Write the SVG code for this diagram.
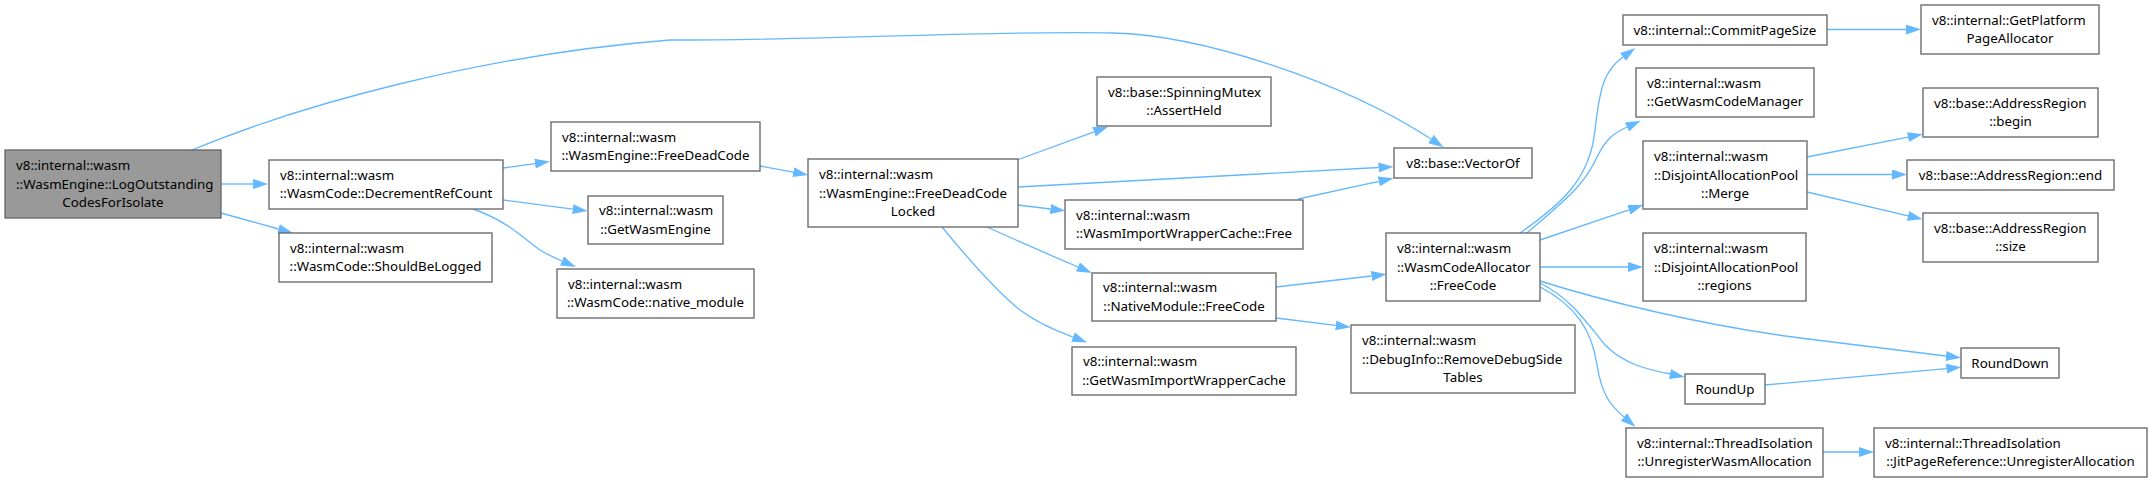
<svg xmlns="http://www.w3.org/2000/svg" width="2151" height="482" viewBox="0 0 2151 482">
<style>
.node rect{fill:#ffffff;stroke:#666666;stroke-width:1.33}
.focus rect{fill:#999999}
text{font-family:"Noto Sans","DejaVu Sans",sans-serif;font-size:13.33px;fill:#000000}
.c{text-anchor:middle}
.edge{fill:none;stroke:#63b8ff;stroke-width:1.33;marker-end:url(#ah)}
</style>
<defs>
<marker id="ah" markerUnits="userSpaceOnUse" viewBox="0 0 15 10" refX="0" refY="5" markerWidth="15" markerHeight="10" orient="auto">
<path d="M0,0 L15,5 L0,10 z" fill="#63b8ff"/>
</marker>
</defs>
<rect width="2151" height="482" fill="#ffffff"/>
<g id="connectors">
<path class="edge" d="M192,150 C300,105 480,55 670,40 C850,40 1000,30 1113,33 C1200,35 1340,80 1431,139"/>
<path class="edge" d="M221,184 L253,184"/>
<path class="edge" d="M221,213 L278.5,229"/>
<path class="edge" d="M503,168 L535,163.6"/>
<path class="edge" d="M503,200 L572.8,209.1"/>
<path class="edge" d="M473,209 C510,222 525,240 540,250 C548,255 555,258 562,261"/>
<path class="edge" d="M760,166 L793.3,172.2"/>
<path class="edge" d="M1017,160 L1094,131.8"/>
<path class="edge" d="M1018,187 L1378.5,167.5"/>
<path class="edge" d="M1018,205 L1050.4,209"/>
<path class="edge" d="M987,227 C1020,242 1050,255 1078,267"/>
<path class="edge" d="M942,227 C965,255 995,290 1020,310 C1040,325 1060,332 1073,337"/>
<path class="edge" d="M1298,199 L1378.8,181.4"/>
<path class="edge" d="M1276,287 L1371.5,276"/>
<path class="edge" d="M1276,318 L1335.8,325.4"/>
<path class="edge" d="M1520,233 C1560,205 1590,180 1595,130 C1600,85 1605,70 1623,57"/>
<path class="edge" d="M1527,233 C1565,200 1585,185 1598,155 C1606,140 1612,134 1627,127"/>
<path class="edge" d="M1540,240 L1629,209.8"/>
<path class="edge" d="M1540,267 L1628,267"/>
<path class="edge" d="M1540,281 C1600,300 1700,325 1800,338 C1870,347 1910,352 1946,356"/>
<path class="edge" d="M1540,283 C1570,298 1585,320 1605,345 C1625,365 1650,370 1670,374"/>
<path class="edge" d="M1540,287 C1575,305 1592,330 1597,365 C1602,395 1610,405 1624,417"/>
<path class="edge" d="M1827,29.5 L1906,29.5"/>
<path class="edge" d="M1807,157 L1908,137.1"/>
<path class="edge" d="M1807,174.5 L1892,174.5"/>
<path class="edge" d="M1807,192 L1908,215.9"/>
<path class="edge" d="M1765,385 L1946.4,368.6"/>
<path class="edge" d="M1823,452 L1859,452"/>
</g>
<g id="n1" class="node focus"><rect x="5" y="150" width="216" height="68"/><text x="16" y="169.9">v8::internal::wasm</text><text x="16" y="188.6">::WasmEngine::LogOutstanding</text><text class="c" x="113" y="207.3">CodesForIsolate</text></g>
<g id="n2" class="node"><rect x="269" y="160" width="234" height="49"/><text x="280" y="179.75">v8::internal::wasm</text><text class="c" x="386" y="198.45">::WasmCode::DecrementRefCount</text></g>
<g id="n3" class="node"><rect x="279" y="233" width="213" height="49"/><text x="290" y="252.75">v8::internal::wasm</text><text class="c" x="385.5" y="271.45">::WasmCode::ShouldBeLogged</text></g>
<g id="n4" class="node"><rect x="551" y="122" width="209" height="49"/><text x="562" y="141.75">v8::internal::wasm</text><text class="c" x="655.5" y="160.45">::WasmEngine::FreeDeadCode</text></g>
<g id="n5" class="node"><rect x="588" y="196" width="135" height="48"/><text x="599" y="215.25">v8::internal::wasm</text><text class="c" x="655.5" y="233.95">::GetWasmEngine</text></g>
<g id="n6" class="node"><rect x="557" y="269" width="197" height="49"/><text x="568" y="288.75">v8::internal::wasm</text><text class="c" x="655.5" y="307.45">::WasmCode::native_module</text></g>
<g id="n7" class="node"><rect x="808" y="159" width="210" height="68"/><text x="819" y="178.9">v8::internal::wasm</text><text x="819" y="197.6">::WasmEngine::FreeDeadCode</text><text class="c" x="913" y="216.3">Locked</text></g>
<g id="n8" class="node"><rect x="1097" y="77" width="174" height="49"/><text x="1108" y="96.75">v8::base::SpinningMutex</text><text class="c" x="1184" y="115.45">::AssertHeld</text></g>
<g id="n9" class="node"><rect x="1394" y="148" width="138" height="30"/><text class="c" x="1463" y="167.6">v8::base::VectorOf</text></g>
<g id="n10" class="node"><rect x="1065" y="200" width="238" height="49"/><text x="1076" y="219.75">v8::internal::wasm</text><text class="c" x="1184" y="238.45">::WasmImportWrapperCache::Free</text></g>
<g id="n11" class="node"><rect x="1092" y="273" width="184" height="48"/><text x="1103" y="292.25">v8::internal::wasm</text><text class="c" x="1184" y="310.95">::NativeModule::FreeCode</text></g>
<g id="n12" class="node"><rect x="1072" y="347" width="224" height="48"/><text x="1083" y="366.25">v8::internal::wasm</text><text class="c" x="1184" y="384.95">::GetWasmImportWrapperCache</text></g>
<g id="n13" class="node"><rect x="1386" y="233" width="154" height="68"/><text x="1397" y="252.9">v8::internal::wasm</text><text x="1397" y="271.6">::WasmCodeAllocator</text><text class="c" x="1463" y="290.3">::FreeCode</text></g>
<g id="n14" class="node"><rect x="1351" y="325" width="224" height="68"/><text x="1362" y="344.9">v8::internal::wasm</text><text x="1362" y="363.6">::DebugInfo::RemoveDebugSide</text><text class="c" x="1463" y="382.3">Tables</text></g>
<g id="n15" class="node"><rect x="1623" y="15" width="204" height="30"/><text class="c" x="1725" y="34.6">v8::internal::CommitPageSize</text></g>
<g id="n16" class="node"><rect x="1921" y="5" width="178" height="49"/><text x="1932" y="24.75">v8::internal::GetPlatform</text><text class="c" x="2010" y="43.45">PageAllocator</text></g>
<g id="n17" class="node"><rect x="1636" y="68" width="178" height="49"/><text x="1647" y="87.75">v8::internal::wasm</text><text class="c" x="1725" y="106.45">::GetWasmCodeManager</text></g>
<g id="n18" class="node"><rect x="1643" y="141" width="164" height="68"/><text x="1654" y="160.9">v8::internal::wasm</text><text x="1654" y="179.6">::DisjointAllocationPool</text><text class="c" x="1725" y="198.3">::Merge</text></g>
<g id="n19" class="node"><rect x="1643" y="233" width="163" height="68"/><text x="1654" y="252.9">v8::internal::wasm</text><text x="1654" y="271.6">::DisjointAllocationPool</text><text class="c" x="1724.5" y="290.3">::regions</text></g>
<g id="n20" class="node"><rect x="1923" y="88" width="175" height="49"/><text x="1934" y="107.75">v8::base::AddressRegion</text><text class="c" x="2010.5" y="126.45">::begin</text></g>
<g id="n21" class="node"><rect x="1907" y="160" width="207" height="30"/><text class="c" x="2010.5" y="179.6">v8::base::AddressRegion::end</text></g>
<g id="n22" class="node"><rect x="1923" y="213" width="175" height="49"/><text x="1934" y="232.75">v8::base::AddressRegion</text><text class="c" x="2010.5" y="251.45">::size</text></g>
<g id="n23" class="node"><rect x="1961" y="348" width="98" height="30"/><text class="c" x="2010" y="367.6">RoundDown</text></g>
<g id="n24" class="node"><rect x="1685" y="374" width="80" height="30"/><text class="c" x="1725" y="393.6">RoundUp</text></g>
<g id="n25" class="node"><rect x="1626" y="428" width="197" height="49"/><text x="1637" y="447.75">v8::internal::ThreadIsolation</text><text class="c" x="1724.5" y="466.45">::UnregisterWasmAllocation</text></g>
<g id="n26" class="node"><rect x="1874" y="428" width="273" height="49"/><text x="1885" y="447.75">v8::internal::ThreadIsolation</text><text class="c" x="2010.5" y="466.45">::JitPageReference::UnregisterAllocation</text></g>
</svg>
